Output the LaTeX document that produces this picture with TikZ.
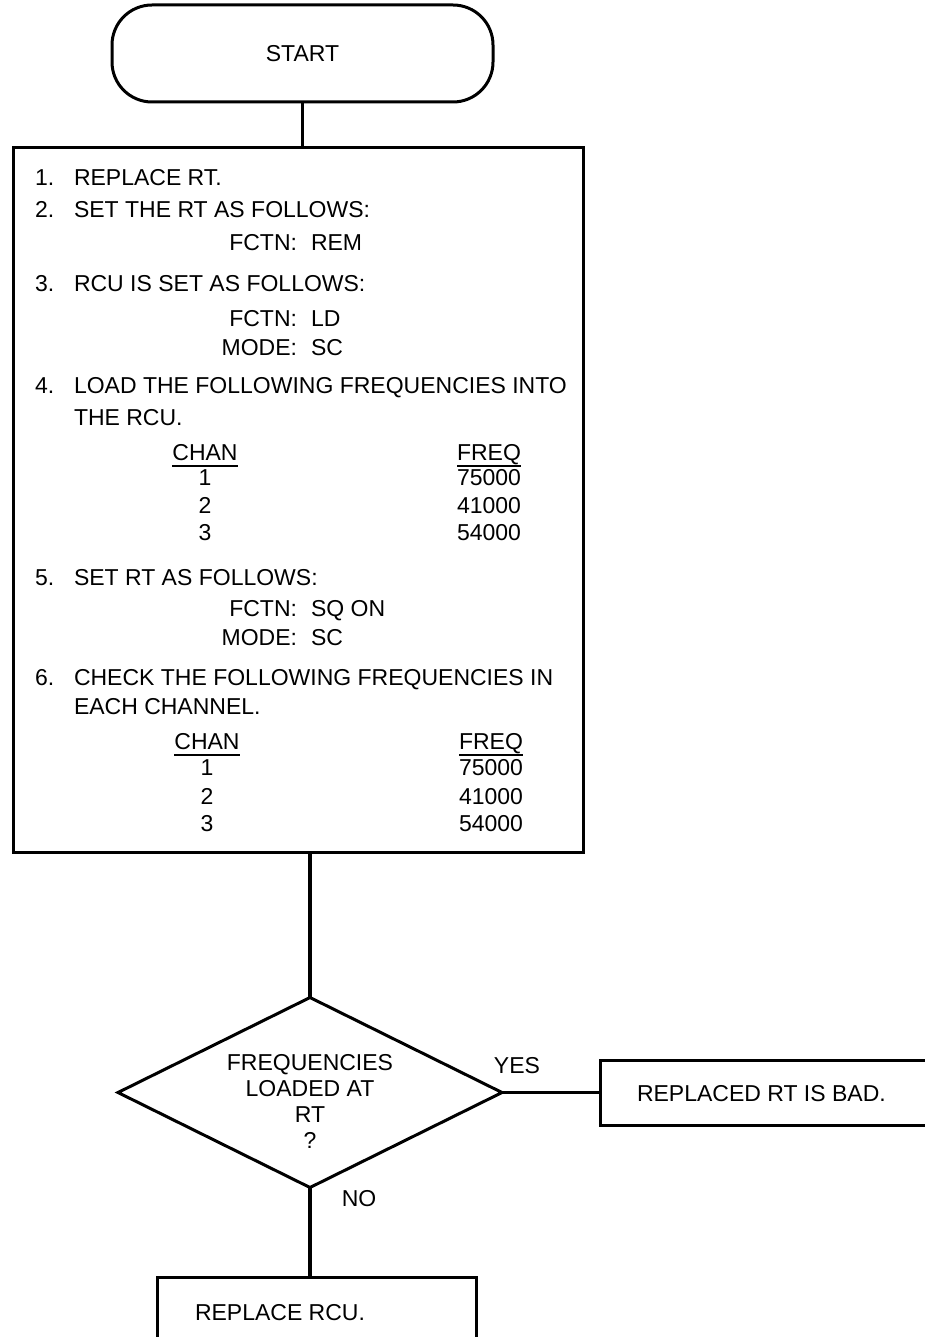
\documentclass[tikz,border=0pt]{standalone}
\usepackage{fontspec}
\setmainfont{Liberation Sans}
\usetikzlibrary{shapes.geometric}
\begin{document}
\begin{tikzpicture}[x=1pt,y=-1pt,
  font=\fontsize{23}{26}\selectfont,
  every node/.style={inner sep=0pt, outer sep=0pt},
  frame/.style={draw, line width=3pt, rectangle},
  term/.style={draw, line width=3pt, rectangle, rounded corners=40pt},
  decision/.style={draw, line width=3pt, diamond},
  conn/.style={line width=3.2pt},
  rule/.style={line width=1.4pt},
  lt/.style={anchor=base west},
  rt/.style={anchor=base east},
  ct/.style={anchor=base}]
\useasboundingbox (0,0) rectangle (925,1337);

% START terminal
\node[term, minimum width=381pt, minimum height=97pt] (start) at (302.5,53.5) {};
\node[ct] (starttxt) at (302.5,61.5) {START};

% main step box
\node[frame, minimum width=570pt, minimum height=704pt] (steps) at (298,500) {};

% step texts
\node[lt] (n1) at (35,186) {1.};
\node[lt] (s1) at (74,186) {REPLACE RT.};
\node[lt] (n2) at (35,218) {2.};
\node[lt] (s2) at (74,218) {SET THE RT AS FOLLOWS:};
\node[rt] (f2a) at (297,251) {FCTN:};
\node[lt] (v2a) at (311,251) {REM};
\node[lt] (n3) at (35,291) {3.};
\node[lt] (s3) at (74,291) {RCU IS SET AS FOLLOWS:};
\node[rt] (f3a) at (297,326) {FCTN:};
\node[lt] (v3a) at (311,326) {LD};
\node[rt] (f3b) at (297,355) {MODE:};
\node[lt] (v3b) at (311,355) {SC};
\node[lt] (n4) at (35,393) {4.};
\node[lt] (s4a) at (74,393) {LOAD THE FOLLOWING FREQUENCIES INTO};
\node[lt] (s4b) at (74,425) {THE RCU.};
\node[ct] (ch4) at (205,460) {CHAN};
\node[ct] (fq4) at (489,460) {FREQ};
\draw[rule] (ch4.base west) ++(0,6) coordinate (u4a) -- (ch4.base east |- u4a);
\draw[rule] (fq4.base west) ++(0,6) coordinate (u4b) -- (fq4.base east |- u4b);
\node[ct] (c41) at (205,485) {1};
\node[ct] (q41) at (489,485) {75000};
\node[ct] (c42) at (205,513) {2};
\node[ct] (q42) at (489,513) {41000};
\node[ct] (c43) at (205,540) {3};
\node[ct] (q43) at (489,540) {54000};

\node[lt] (n5) at (35,585) {5.};
\node[lt] (s5) at (74,585) {SET RT AS FOLLOWS:};
\node[rt] (f5a) at (297,616) {FCTN:};
\node[lt] (v5a) at (311,616) {SQ ON};
\node[rt] (f5b) at (297,645) {MODE:};
\node[lt] (v5b) at (311,645) {SC};
\node[lt] (n6) at (35,685) {6.};
\node[lt] (s6a) at (74,685) {CHECK THE FOLLOWING FREQUENCIES IN};
\node[lt] (s6b) at (74,714) {EACH CHANNEL.};
\node[ct] (ch6) at (207,749) {CHAN};
\node[ct] (fq6) at (491,749) {FREQ};
\draw[rule] (ch6.base west) ++(0,6) coordinate (u6a) -- (ch6.base east |- u6a);
\draw[rule] (fq6.base west) ++(0,6) coordinate (u6b) -- (fq6.base east |- u6b);
\node[ct] (c61) at (207,775) {1};
\node[ct] (q61) at (491,775) {75000};
\node[ct] (c62) at (207,804) {2};
\node[ct] (q62) at (491,804) {41000};
\node[ct] (c63) at (207,831) {3};
\node[ct] (q63) at (491,831) {54000};

% decision
\node[decision, minimum width=384pt, minimum height=190pt] (dec) at (310,1092.5) {};
\node[align=center, font=\fontsize{23}{26}\selectfont] (dectxt) at (310,1101) {FREQUENCIES\\LOADED AT\\RT\\?};

% outcome boxes
\node[frame, minimum width=345pt, minimum height=65pt] (bad) at (772.5,1092.5) {};
\node[lt] (badtxt) at (637,1101) {REPLACED RT IS BAD.};
\node[frame, minimum width=319pt, minimum height=80pt] (rcu) at (316.5,1317) {};
\node[lt] (rcutxt) at (195,1320) {REPLACE RCU.};

% connectors
\draw[conn] (start.south) -- (start.south |- steps.north);
\draw[conn] (dec.north |- steps.south) -- (dec.north);
\draw[conn] (dec.east) -- (bad.west);
\draw[conn] (dec.south) -- (dec.south |- rcu.north);

% labels
\node[ct] (yes) at (517,1073) {YES};
\node[ct] (no) at (359,1206) {NO};
\end{tikzpicture}
\end{document}
